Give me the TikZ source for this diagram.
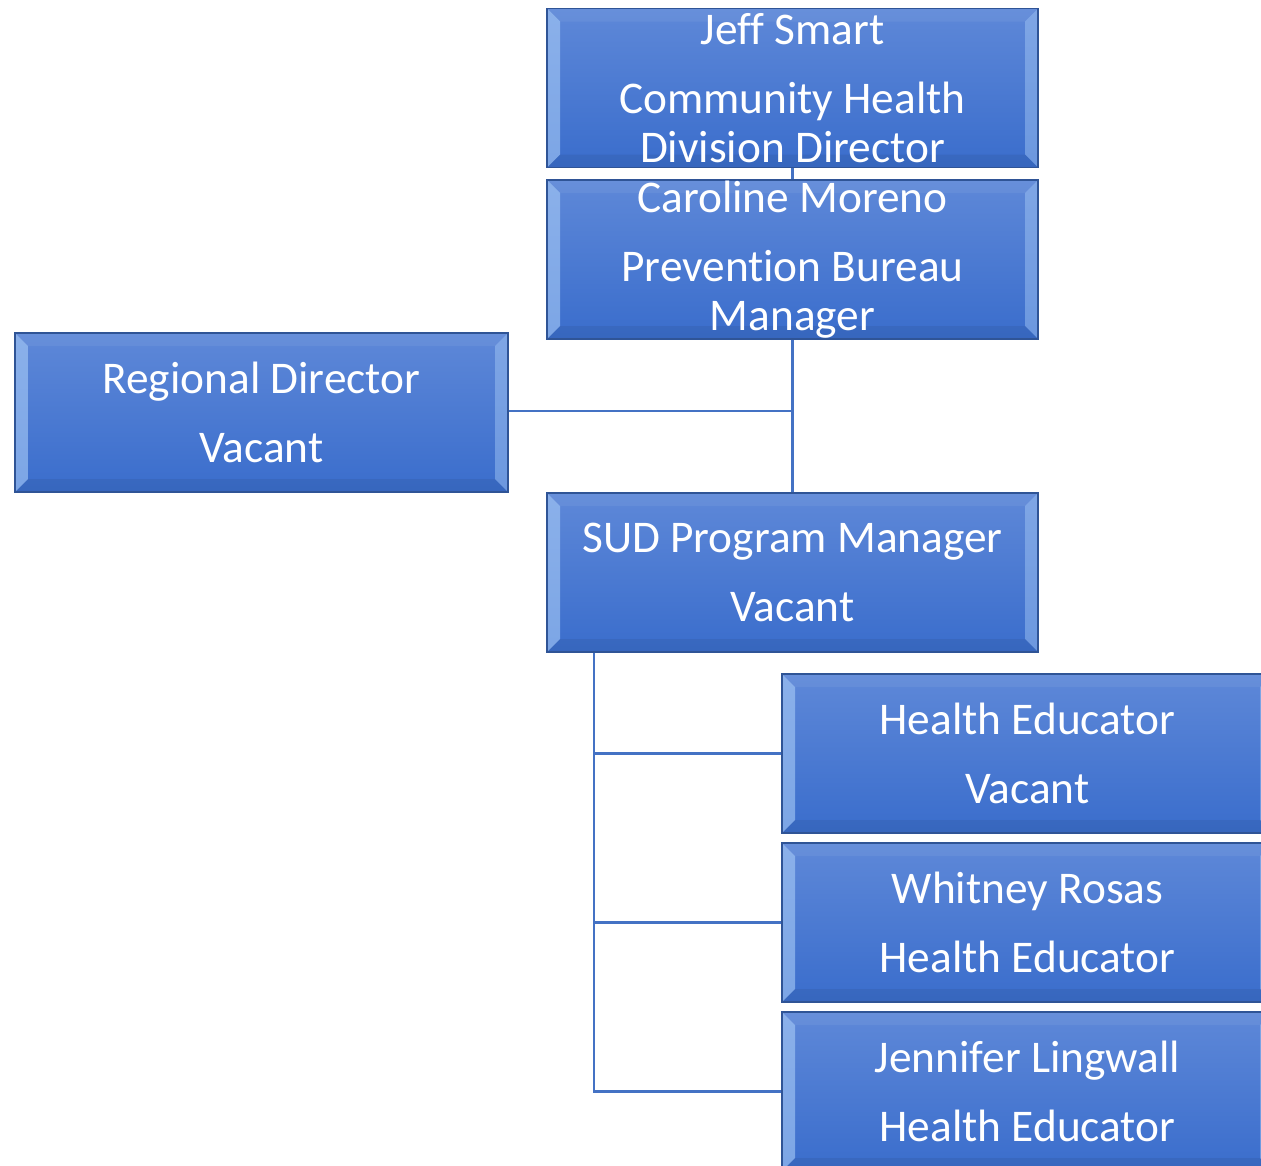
\documentclass[tikz,border=0pt]{standalone}
\usepackage{fontspec}
\setmainfont{Carlito}[Ligatures=NoCommon]
\usepackage{xcolor}
\usepackage{tikz}
\usetikzlibrary{shapes,arrows,calc}
\definecolor{boxtop}{HTML}{5E88D8}
\definecolor{boxbot}{HTML}{3A6DCC}
\definecolor{boxedge}{HTML}{2F5496}
\definecolor{linkblue}{HTML}{4472C4}
\definecolor{bevel}{HTML}{A9CCF7}
\newcommand{\orgfont}{\fontsize{25.8}{28}\selectfont}
\tikzstyle{orgbox} = [rectangle, draw=boxedge, line width=0.8pt, top color=boxtop, bottom color=boxbot,
    minimum width=9.82cm, minimum height=3.18cm, inner sep=0pt, text=white, align=center, font=\orgfont,
    path picture={
      \coordinate (nw) at (path picture bounding box.north west);
      \coordinate (ne) at (path picture bounding box.north east);
      \coordinate (sw) at (path picture bounding box.south west);
      \coordinate (se) at (path picture bounding box.south east);
      \fill[bevel, opacity=0.6] (nw) -- ($(nw)+(0.26,-0.26)$) -- ($(sw)+(0.26,0.26)$) -- (sw) -- cycle;
      \fill[bevel, opacity=0.45] (ne) -- ($(ne)+(-0.26,-0.26)$) -- ($(se)+(-0.26,0.26)$) -- (se) -- cycle;
      \fill[boxedge, opacity=0.25] (sw) -- ($(sw)+(0.26,0.26)$) -- ($(se)+(-0.26,0.26)$) -- (se) -- cycle;
      \fill[white, opacity=0.06] (nw) -- ($(nw)+(0.26,-0.26)$) -- ($(ne)+(-0.26,-0.26)$) -- (ne) -- cycle;
    }]
\tikzstyle{line} = [draw=linkblue, line width=1.3pt]

\begin{document}
\begin{tikzpicture}
			\useasboundingbox (0,0) rectangle (25.22,-23.32);
			\clip (0,0) rectangle (25.22,-23.32);
			% Place nodes
			\node [orgbox] (director) at (15.85,-1.76) {Jeff Smart\\[11pt]Community Health\\Division Director};
			\node [orgbox, below of=director, node distance=3.43cm] (bureau) {Caroline Moreno\\[11pt]Prevention Bureau\\Manager};
			\node [orgbox, below of=bureau, node distance=6.26cm] (sudmanager) {SUD Program Manager\\[11pt]Vacant};
			\node [orgbox, minimum width=9.86cm] (regional) at (5.23,-8.25) {Regional Director\\[11pt]Vacant};
			\node [orgbox] (educatorA) at (20.55,-15.07) {Health Educator\\[11pt]Vacant};
			\node [orgbox, below of=educatorA, node distance=3.38cm] (educatorB) {Whitney Rosas\\[11pt]Health Educator};
			\node [orgbox, below of=educatorB, node distance=3.38cm] (educatorC) {Jennifer Lingwall\\[11pt]Health Educator};
			%
			\path [line] (director) -- (bureau);
			\path [line] (bureau) -- (sudmanager);
			\path [line] ($(regional.east)+(0,0.03)$) -- ($(regional.east -| bureau.south)+(0,0.03)$);
			\path [line] ($(sudmanager.south west)+(0.96,0)$) |- (educatorA.west);
			\path [line] ($(sudmanager.south west)+(0.96,0)$) |- (educatorB.west);
			\path [line] ($(sudmanager.south west)+(0.96,0)$) |- (educatorC.west);
	\end{tikzpicture}
\end{document}
